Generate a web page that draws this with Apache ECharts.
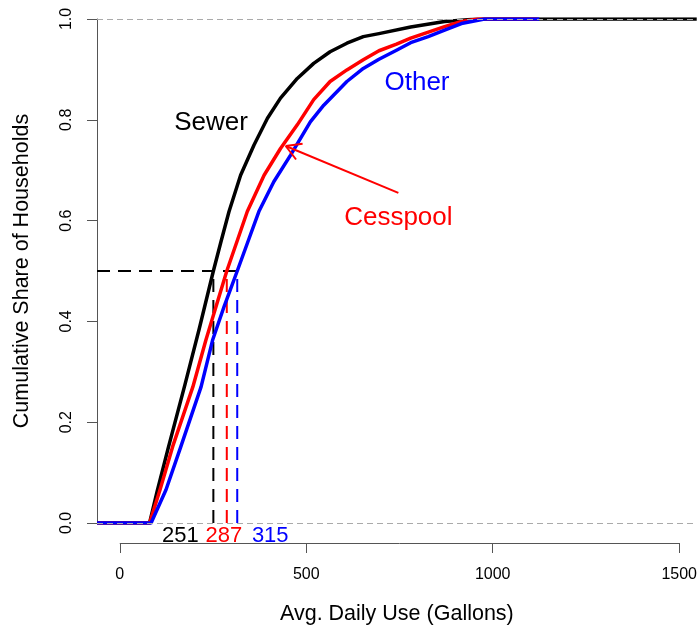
<!DOCTYPE html>
<html>
<head>
<meta charset="utf-8">
<script src="https://cdn.jsdelivr.net/npm/echarts@6/dist/echarts.min.js"></script>
<style>
  html, body { margin: 0; padding: 0; background: #fff; }
  #chart { width: 700px; height: 633px; }
</style>
</head>
<body>
<div id="chart"></div>
<script>
// ECDF points (gallons, cumulative share)
const sewerX = [-61, 80, 100, 129, 175, 213, 251, 271, 293, 324, 360, 396, 431, 476, 520, 564, 609, 653, 695, 780, 871, 942, 990, 1547];
const sewerY = [0, 0, 0.062, 0.146, 0.275, 0.385, 0.5, 0.557, 0.618, 0.69, 0.75, 0.803, 0.843, 0.882, 0.912, 0.935, 0.952, 0.965, 0.971, 0.984, 0.995, 0.999, 1, 1];
const cessX = [-61, 80, 108, 142, 196, 231, 287, 315, 342, 387, 431, 476, 520, 564, 609, 653, 695, 742, 780, 871, 916, 960, 1120];
const cessY = [0, 0, 0.066, 0.152, 0.27, 0.363, 0.5, 0.56, 0.618, 0.69, 0.743, 0.79, 0.84, 0.876, 0.899, 0.919, 0.937, 0.95, 0.962, 0.985, 0.995, 1, 1];
const otherX = [-61, 84, 124, 164, 218, 249, 280, 315, 347, 373, 413, 458, 511, 547, 609, 653, 695, 742, 780, 827, 871, 916, 978, 1125];
const otherY = [0, 0, 0.066, 0.152, 0.27, 0.363, 0.43, 0.5, 0.565, 0.618, 0.677, 0.73, 0.796, 0.829, 0.876, 0.902, 0.92, 0.938, 0.953, 0.965, 0.978, 0.991, 1, 1];

const groups = ["Sewer", "Cesspool", "Other"];
const colors = ["#000000", "#ff0000", "#0000ff"];
const medians = [251, 287, 315];
const xTicks = [0, 500, 1000, 1500];
const xMin = -61;
const xMax = 1547;

// annotation anchors (data coords)
const nameX = [245, 747, 797];
const nameY = [0.794, 0.605, 0.873];
const arrowFrom = [747, 0.655];
const arrowTo = [445, 0.748];

const FONT = "'Liberation Sans', Arial, sans-serif";
const zip = (xs, ys) => xs.map((x, i) => [x, ys[i]]);

const curves = [zip(sewerX, sewerY), zip(cessX, cessY), zip(otherX, otherY)];

const series = [];

// median guide lines (under the curves)
series.push({
  type: "line",
  data: [[xMin, 0.5], [medians[2], 0.5]],
  symbol: "none",
  silent: true,
  z: 1,
  lineStyle: { color: "#000", width: 2, type: [13, 8] },
});
medians.forEach((m, i) => {
  series.push({
    type: "line",
    data: [[m, 0], [m, 0.5]],
    symbol: "none",
    silent: true,
    z: 1,
    lineStyle: { color: colors[i], width: 2, type: [13, 8] },
  });
});

// ECDF curves
curves.forEach((d, i) => {
  series.push({
    name: groups[i],
    type: "line",
    data: d,
    symbol: "none",
    smooth: false,
    silent: true,
    z: 2 + i,
    lineStyle: { color: colors[i], width: 3.5, join: "round" },
  });
});

// grey reference lines at 0 and 1
series.push({
  type: "line",
  data: [],
  z: 8,
  markLine: {
    silent: true,
    symbol: ["none", "none"],
    label: { show: false },
    lineStyle: { color: "#aaaaaa", width: 1, type: [6, 4] },
    data: [{ yAxis: 0 }, { yAxis: 1 }],
  },
});

// median value labels
series.push({
  type: "scatter",
  symbolSize: 0,
  silent: true,
  z: 9,
  itemStyle: { opacity: 1 },
  data: medians.map((m, i) => ({
    value: [m, 0],
    label: {
      show: true,
      formatter: String(m),
      color: colors[i],
      fontSize: 22,
      fontFamily: FONT,
      offset: [[-33, 13], [-3, 13], [33, 13]][i],
    },
  })),
});

// group names
series.push({
  type: "scatter",
  symbolSize: 0,
  silent: true,
  z: 9,
  itemStyle: { opacity: 1 },
  data: groups.map((g, i) => ({
    value: [nameX[i], nameY[i]],
    label: {
      show: true,
      position: "inside",
      formatter: g,
      color: colors[i],
      fontSize: 26,
      fontFamily: FONT,
    },
  })),
});

// arrow to the cesspool curve + the bottom axis line (0..1500)
series.push({
  type: "custom",
  silent: true,
  clip: false,
  z: 9,
  data: [[arrowFrom[0], arrowFrom[1], arrowTo[0], arrowTo[1]]],
  renderItem(params, api) {
    const a = api.coord([api.value(0), api.value(1)]);
    const b = api.coord([api.value(2), api.value(3)]);
    const ang = Math.atan2(a[1] - b[1], a[0] - b[0]);
    const len = 17;
    const h1 = [b[0] + len * Math.cos(ang - Math.PI / 6), b[1] + len * Math.sin(ang - Math.PI / 6)];
    const h2 = [b[0] + len * Math.cos(ang + Math.PI / 6), b[1] + len * Math.sin(ang + Math.PI / 6)];
    const st = { stroke: "#ff0000", lineWidth: 2 };
    const p0 = api.coord([xTicks[0], 0]);
    const p1 = api.coord([xTicks[xTicks.length - 1], 0]);
    return {
      type: "group",
      children: [
        { type: "line", shape: { x1: a[0], y1: a[1], x2: b[0], y2: b[1] }, style: st },
        { type: "line", shape: { x1: b[0], y1: b[1], x2: h1[0], y2: h1[1] }, style: st },
        { type: "line", shape: { x1: b[0], y1: b[1], x2: h2[0], y2: h2[1] }, style: st },
        { type: "line", shape: { x1: p0[0], y1: p0[1] + 20.5, x2: p1[0], y2: p1[1] + 20.5 }, style: { stroke: "#555", lineWidth: 1 } },
      ],
    };
  },
});

const option = {
  animation: false,
  backgroundColor: "#fff",
  grid: { left: 97, right: 0, top: 19, bottom: 110 },
  xAxis: {
    type: "value",
    min: xMin,
    max: xMax,
    offset: 20,
    name: "Avg. Daily Use (Gallons)",
    nameLocation: "middle",
    nameGap: 60,
    nameTextStyle: { fontSize: 21.5, color: "#000", fontFamily: FONT },
    axisLine: { show: false, onZero: false },
    axisTick: { show: true, length: 10, customValues: xTicks, lineStyle: { color: "#555" } },
    axisLabel: { customValues: xTicks, fontSize: 16, color: "#000", fontFamily: FONT, margin: 24, formatter: (v) => String(v) },
    splitLine: { show: false },
  },
  yAxis: {
    type: "value",
    min: 0,
    max: 1,
    interval: 0.2,
    name: "Cumulative Share of Households",
    nameLocation: "middle",
    nameGap: 64,
    nameTextStyle: { fontSize: 21.5, color: "#000", fontFamily: FONT },
    axisLine: { show: true, onZero: false, lineStyle: { color: "#555" } },
    axisTick: { show: true, length: 10, lineStyle: { color: "#555" } },
    axisLabel: {
      rotate: 90,
      fontSize: 16,
      color: "#000",
      fontFamily: FONT,
      margin: 22,
      formatter: (v) => v.toFixed(1),
    },
    splitLine: { show: false },
  },
  series,
};

const chart = echarts.init(document.getElementById("chart"));
chart.setOption(option);
</script>
</body>
</html>
